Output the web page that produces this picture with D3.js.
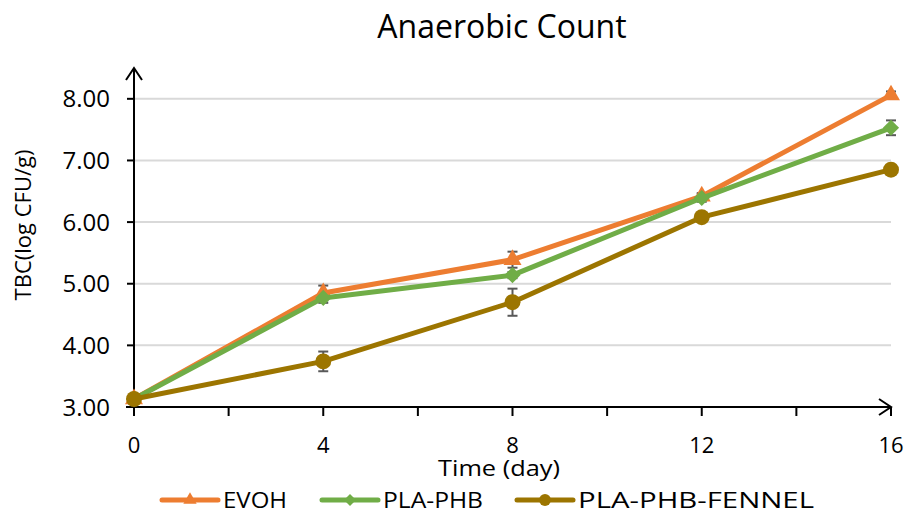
<!DOCTYPE html>
<html>
<head>
<meta charset="utf-8">
<script src="https://cdn.jsdelivr.net/npm/d3@7"></script>
<style>
  body { margin: 0; background: #fff; }
  svg { display: block; }
</style>
</head>
<body>
<svg id="chart" width="912" height="514"></svg>
<script>
// chart data
const days = [0, 4, 8, 12, 16];
const seriesNames = ["EVOH", "PLA-PHB", "PLA-PHB-FENNEL"];
const evoh = [3.13, 4.85, 5.39, 6.42, 8.06];
const plaPhb = [3.13, 4.77, 5.14, 6.39, 7.53];
const fennel = [3.13, 3.74, 4.70, 6.08, 6.85];
const evohErr = [0.02, 0.12, 0.13, 0.05, 0.06];
const plaPhbErr = [0.02, 0.08, 0.05, 0.06, 0.12];
const fennelErr = [0.02, 0.16, 0.22, 0.04, 0.03];
const yTicks = [3, 4, 5, 6, 7, 8];
const xMajor = [0, 4, 8, 12, 16];
const xMinor = [2, 6, 10, 14];

const colors = ["#ED7D31", "#70AD47", "#9C7500"];
// excel-like markers: triangle, square turned 45deg, circle
const shapes = [d3.symbolTriangle, d3.symbolSquare, d3.symbolCircle];
const rot = [0, 45, 0];
const markSize = [140, 130, 200];

const svg = d3.select("#chart");
const sans = "'Open Sans', 'Noto Sans', sans-serif";

const x = d3.scaleLinear().domain([0, 16]).range([134, 891]);
const y = d3.scaleLinear().domain([3, 8.5]).range([407, 68]);

// title
svg.append("text")
  .attr("x", 502).attr("y", 38)
  .attr("text-anchor", "middle")
  .style("font-family", sans).style("font-size", "32px").attr("fill", "#000")
  .text("Anaerobic Count");

// gridlines
svg.append("g").selectAll("line")
  .data(yTicks.filter(d => d > 3))
  .join("line")
  .attr("x1", x(0)).attr("x2", x(16))
  .attr("y1", d => y(d)).attr("y2", d => y(d))
  .attr("stroke", "#d9d9d9").attr("stroke-width", 2);

// y axis
const yAxis = svg.append("g");
yAxis.append("line")
  .attr("x1", x(0)).attr("x2", x(0))
  .attr("y1", y(3) + 8).attr("y2", y(8.5))
  .attr("stroke", "#000").attr("stroke-width", 2);
yAxis.append("path")
  .attr("d", `M${x(0) - 8},${y(8.5) + 12}L${x(0)},${y(8.5)}L${x(0) + 8},${y(8.5) + 12}`)
  .attr("fill", "none").attr("stroke", "#000").attr("stroke-width", 2);
yAxis.selectAll(".tick")
  .data(yTicks)
  .join("line")
  .attr("x1", x(0) - 7).attr("x2", x(0))
  .attr("y1", d => y(d)).attr("y2", d => y(d))
  .attr("stroke", "#000").attr("stroke-width", 2);
yAxis.selectAll("text")
  .data(yTicks)
  .join("text")
  .attr("x", 110).attr("y", d => y(d))
  .attr("dy", "0.36em")
  .attr("text-anchor", "end")
  .style("font-family", sans).style("font-size", "24px").attr("fill", "#000")
  .text(d => d3.format(".2f")(d));

svg.append("text")
  .attr("transform", "translate(31,225) rotate(-90)")
  .attr("text-anchor", "middle")
  .style("font-family", sans).style("font-size", "22px").attr("fill", "#000")
  .text("TBC(log CFU/g)");

// x axis
const xAxis = svg.append("g");
xAxis.append("line")
  .attr("x1", x(0) - 8).attr("x2", x(16))
  .attr("y1", y(3)).attr("y2", y(3))
  .attr("stroke", "#000").attr("stroke-width", 2);
xAxis.append("path")
  .attr("d", `M${x(16) - 12},${y(3) - 8}L${x(16)},${y(3)}L${x(16) - 12},${y(3) + 8}`)
  .attr("fill", "none").attr("stroke", "#000").attr("stroke-width", 2);
xAxis.selectAll(".maj")
  .data(xMajor.concat(xMinor))
  .join("line")
  .attr("x1", d => x(d)).attr("x2", d => x(d))
  .attr("y1", y(3)).attr("y2", y(3) + 9)
  .attr("stroke", "#000").attr("stroke-width", 2);
xAxis.selectAll("text")
  .data(xMajor)
  .join("text")
  .attr("x", d => x(d)).attr("y", 453)
  .attr("text-anchor", "middle")
  .style("font-family", sans).style("font-size", "22px").attr("fill", "#000")
  .text(d => d);

svg.append("text")
  .attr("x", 499).attr("y", 476)
  .attr("text-anchor", "middle")
  .attr("textLength", 122).attr("lengthAdjust", "spacingAndGlyphs")
  .style("font-family", sans).style("font-size", "22px").attr("fill", "#000")
  .text("Time (day)");

// series
const series = [
  { name: seriesNames[0], values: evoh, err: evohErr },
  { name: seriesNames[1], values: plaPhb, err: plaPhbErr },
  { name: seriesNames[2], values: fennel, err: fennelErr }
];

const line = d3.line().x((d, i) => x(days[i])).y(d => y(d));

// error bars (drawn under the lines)
series.forEach(s => {
  const g = svg.append("g").attr("stroke", "#595959").attr("stroke-width", 2);
  s.values.forEach((v, i) => {
    const cx = x(days[i]);
    g.append("line").attr("x1", cx).attr("x2", cx)
      .attr("y1", y(v - s.err[i])).attr("y2", y(v + s.err[i]));
    [v - s.err[i], v + s.err[i]].forEach(e => {
      g.append("line").attr("x1", cx - 5).attr("x2", cx + 5)
        .attr("y1", y(e)).attr("y2", y(e));
    });
  });
});

series.forEach((s, k) => {
  svg.append("path")
    .datum(s.values)
    .attr("d", line)
    .attr("fill", "none")
    .attr("stroke", colors[k])
    .attr("stroke-width", 5)
    .attr("stroke-linejoin", "round");
  svg.append("g").selectAll("path")
    .data(s.values)
    .join("path")
    .attr("transform", (d, i) => `translate(${x(days[i])},${y(d)}) rotate(${rot[k]})`)
    .attr("d", d3.symbol().type(shapes[k]).size(markSize[k]))
    .attr("fill", colors[k]);
});

// legend
const legendX = [162, 322, 517];
const legendW = [64, 100, 236];
const legend = svg.append("g");
series.forEach((s, k) => {
  const lx = legendX[k];
  legend.append("line")
    .attr("x1", lx).attr("x2", lx + 56)
    .attr("y1", 500).attr("y2", 500)
    .attr("stroke", colors[k]).attr("stroke-width", 5)
    .attr("stroke-linecap", "round");
  legend.append("path")
    .attr("transform", `translate(${lx + 28},500) rotate(${rot[k]})`)
    .attr("d", d3.symbol().type(shapes[k]).size(markSize[k] * 0.55))
    .attr("fill", colors[k]);
  legend.append("text")
    .attr("x", lx + 61).attr("y", 508)
    .attr("textLength", legendW[k]).attr("lengthAdjust", "spacingAndGlyphs")
    .style("font-family", sans).style("font-size", "22px").attr("fill", "#000")
    .text(s.name);
});
</script>
</body>
</html>
